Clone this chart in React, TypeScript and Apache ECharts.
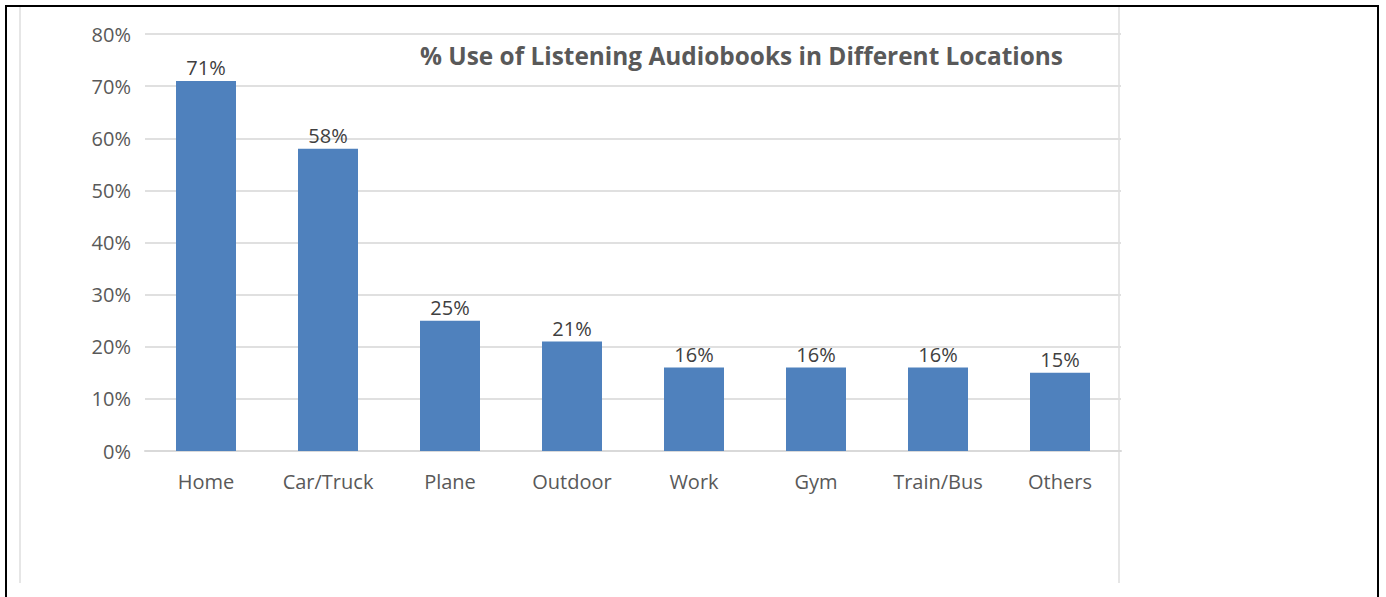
import React, { useEffect, useRef } from "react";
import * as echarts from "echarts";

const categories = ["Home", "Car/Truck", "Plane", "Outdoor", "Work", "Gym", "Train/Bus", "Others"];
const values = [71, 58, 25, 21, 16, 16, 16, 15];
const yTicks = [0, 10, 20, 30, 40, 50, 60, 70, 80];
const titleText = "% Use of Listening Audiobooks in Different Locations";

export default function App() {
  const ref = useRef<HTMLDivElement>(null);
  useEffect(() => {
    if (!ref.current) return;
    const chart = echarts.init(ref.current, null, { renderer: "svg" });
    chart.setOption({
      animation: false,
      backgroundColor: "#ffffff",
      graphic: [
        { type: "line", shape: { x1: 20, y1: 7, x2: 20, y2: 583 }, style: { stroke: "#e6e6e6", lineWidth: 2 }, z: -10 },
        { type: "line", shape: { x1: 1119, y1: 7, x2: 1119, y2: 583 }, style: { stroke: "#e6e6e6", lineWidth: 2 }, z: -10 },
        { type: "line", shape: { x1: 5, y1: 6, x2: 1379, y2: 6 }, style: { stroke: "#000", lineWidth: 2 } },
        { type: "line", shape: { x1: 6, y1: 5, x2: 6, y2: 597 }, style: { stroke: "#000", lineWidth: 2 } },
        { type: "line", shape: { x1: 1378, y1: 5, x2: 1378, y2: 597 }, style: { stroke: "#000", lineWidth: 2 } },
        {
          type: "text",
          left: 420,
          top: 43,
          style: { text: titleText, font: "bold 24.4px 'Open Sans'", fill: "#595959" },
        },
      ],
      grid: { left: 145, top: 34, width: 976, height: 417, containLabel: false },
      xAxis: {
        type: "category",
        data: categories,
        axisLine: { lineStyle: { color: "#d9d9d9", width: 2 } },
        axisTick: { show: false },
        axisLabel: { color: "#595959", fontSize: 20, fontFamily: "Open Sans", margin: 20 },
      },
      yAxis: {
        type: "value",
        min: yTicks[0],
        max: yTicks[yTicks.length - 1],
        interval: 10,
        axisLine: { show: false },
        axisTick: { show: false },
        splitLine: { lineStyle: { color: "#e0e0e0", width: 2 } },
        axisLabel: { color: "#595959", fontSize: 20, fontFamily: "Open Sans", margin: 14, formatter: "{value}%" },
      },
      series: [
        {
          type: "bar",
          data: values,
          barWidth: 60,
          itemStyle: { color: "#4F81BD" },
          label: {
            show: true,
            position: "top",
            distance: 3,
            formatter: "{c}%",
            color: "#404040",
            fontSize: 20,
            fontFamily: "Open Sans",
          },
        },
      ],
    });
    return () => chart.dispose();
  }, []);
  return <div ref={ref} style={{ position: "fixed", left: 0, top: 0, width: 1386, height: 597 }} />;
}
